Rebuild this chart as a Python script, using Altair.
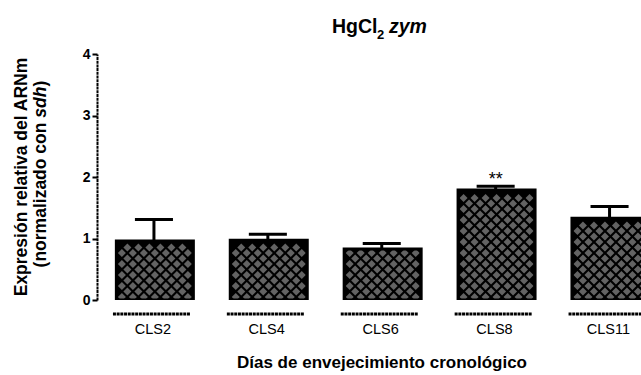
import altair as alt
import pandas as pd

# ---------------- data ----------------
categories = ["CLS2", "CLS4", "CLS6", "CLS8", "CLS11"]
means = [0.96, 0.97, 0.83, 1.79, 1.33]
errors = [0.35, 0.10, 0.09, 0.06, 0.19]
signif = ["", "", "", "**", ""]
y_ticks = [0, 1, 2, 3, 4]

title_main = "HgCl"
title_sub = "2"
title_ital = "zym"
ytitle_1 = "Expresión relativa del ARNm"
ytitle_2a = "(normalizado con "
ytitle_2b = "sdh"
ytitle_2c = ")"
xtitle = "Días de envejecimiento cronológico"

# ---------------- layout constants ----------------
FONT = "Liberation Sans"
W, H = 544, 246          # plot area in px
STEP = 113.9             # px per category slot
YMAX = 4
YPX = H / YMAX
BAR_L, BAR_R = 0.17, 0.846
CAP_L, CAP_R = 0.333, 0.667
SEG_L, SEG_R = 0.14, 0.82

df = pd.DataFrame({"cat": categories, "mean": means, "err": errors, "sig": signif})
df["i"] = range(len(df))
df["top"] = df["mean"] + df["err"]

# crosshatch texture: grey diamonds on a black bar, laid out inside each bar
tex = []
for i, m in enumerate(means):
    left = (i + BAR_L) * STEP
    right = (i + BAR_R) * STEP
    cx = (left + right) / 2
    top = m * YPX
    r = 0
    while 3 + r * 5.5 <= top - 3:
        py = 3 + r * 5.5
        off = 0 if r % 2 == 0 else 5.5
        for k in range(-10, 11):
            px = cx + off + k * 11
            if left + 3 <= px <= right - 3:
                tex.append({"tx": px / STEP, "ty": py / YPX})
        r += 1
tex = pd.DataFrame(tex)

xscale = alt.Scale(domain=[0, W / STEP], nice=False, zero=False)
yscale = alt.Scale(domain=[0, YMAX], nice=False)
yaxis = alt.Axis(values=y_ticks, title=None, grid=False, domainColor="black",
                 domainWidth=2, domainDash=[3, 0.7], tickColor="black", tickSize=5,
                 tickWidth=2, labelFont=FONT, labelFontSize=14, labelFontWeight="bold",
                 labelColor="black", labelPadding=2)

base = alt.Chart(df).transform_calculate(
    x0=f"datum.i + {BAR_L}", x1=f"datum.i + {BAR_R}",
    xc="datum.i + 0.5", c0=f"datum.i + {CAP_L}", c1=f"datum.i + {CAP_R}",
    s0=f"datum.i + {SEG_L}", s1=f"datum.i + {SEG_R}", xl="datum.i + 0.49",
    zero="0")

bar_fill = base.mark_rect(color="black", clip=True).encode(
    x=alt.X("x0:Q", scale=xscale, axis=None), x2="x1:Q",
    y=alt.Y("mean:Q", scale=yscale, axis=yaxis), y2="zero:Q")

diamonds = alt.Chart(tex).mark_point(shape="diamond", filled=True, size=64,
                                     color="#636363", opacity=1, strokeWidth=0,
                                     clip=True).encode(
    x=alt.X("tx:Q", scale=xscale, axis=None),
    y=alt.Y("ty:Q", scale=yscale, axis=yaxis))

bar_stroke = base.mark_rect(stroke="black", strokeWidth=3, fillOpacity=0,
                            clip=True).encode(
    x=alt.X("x0:Q", scale=xscale, axis=None), x2="x1:Q",
    y=alt.Y("mean:Q", scale=yscale, axis=yaxis), y2="zero:Q")

stem = base.mark_rule(color="black", strokeWidth=3).encode(
    x=alt.X("xc:Q", scale=xscale, axis=None),
    y=alt.Y("mean:Q", scale=yscale, axis=yaxis), y2="top:Q")

cap = base.mark_rule(color="black", strokeWidth=3).encode(
    x=alt.X("c0:Q", scale=xscale, axis=None), x2="c1:Q",
    y=alt.Y("top:Q", scale=yscale, axis=yaxis))

segs = base.mark_rule(color="black", strokeWidth=3, strokeDash=[3, 0.7]).encode(
    x=alt.X("s0:Q", scale=xscale, axis=None), x2="s1:Q",
    y=alt.value(H + 14))

labels = base.mark_text(font=FONT, fontSize=14.5, color="black",
                        baseline="alphabetic", align="center").encode(
    x=alt.X("xl:Q", scale=xscale, axis=None), y=alt.value(H + 34), text="cat:N")

stars = base.transform_filter("datum.sig != ''").mark_text(
    font=FONT, fontSize=18, color="black", baseline="alphabetic",
    align="center", dy=-1).encode(
    x=alt.X("xc:Q", scale=xscale, axis=None),
    y=alt.Y("top:Q", scale=yscale, axis=yaxis), text="sig:N")


def txt(s, x, y, size, weight="bold", style="normal", angle=0, align="left"):
    return alt.Chart(pd.DataFrame({"t": [s]})).mark_text(
        font=FONT, fontSize=size, fontWeight=weight, fontStyle=style,
        angle=angle, align=align, baseline="alphabetic", color="black").encode(
        text="t:N", x=alt.value(x), y=alt.value(y))


texts = [
    txt(title_main, 235, -21, 19.5),
    txt(title_sub, 280, -15, 13),
    txt(title_ital, 292, -21, 19.5, style="italic"),
    txt(xtitle, 285, H + 68, 17, align="center"),
    txt(ytitle_1, -70, 123, 17.5, angle=270, align="center"),
    txt(ytitle_2a, -51, 213.4, 17.5, angle=270),
    txt(ytitle_2b, -51, 63.7, 17.5, style="italic", angle=270),
    txt(ytitle_2c, -51, 32.6, 17.5, angle=270),
]

chart = alt.layer(bar_fill, diamonds, bar_stroke, stem, cap, segs, labels, stars,
                  *texts).properties(
    width=W, height=H,
    padding={"left": 97, "top": 54, "right": 0, "bottom": 75},
    autosize=alt.AutoSizeParams(type="none"),
    background="white",
).configure_view(strokeWidth=0)

chart.save("out.html", embed_options={"renderer": "svg", "actions": False})
